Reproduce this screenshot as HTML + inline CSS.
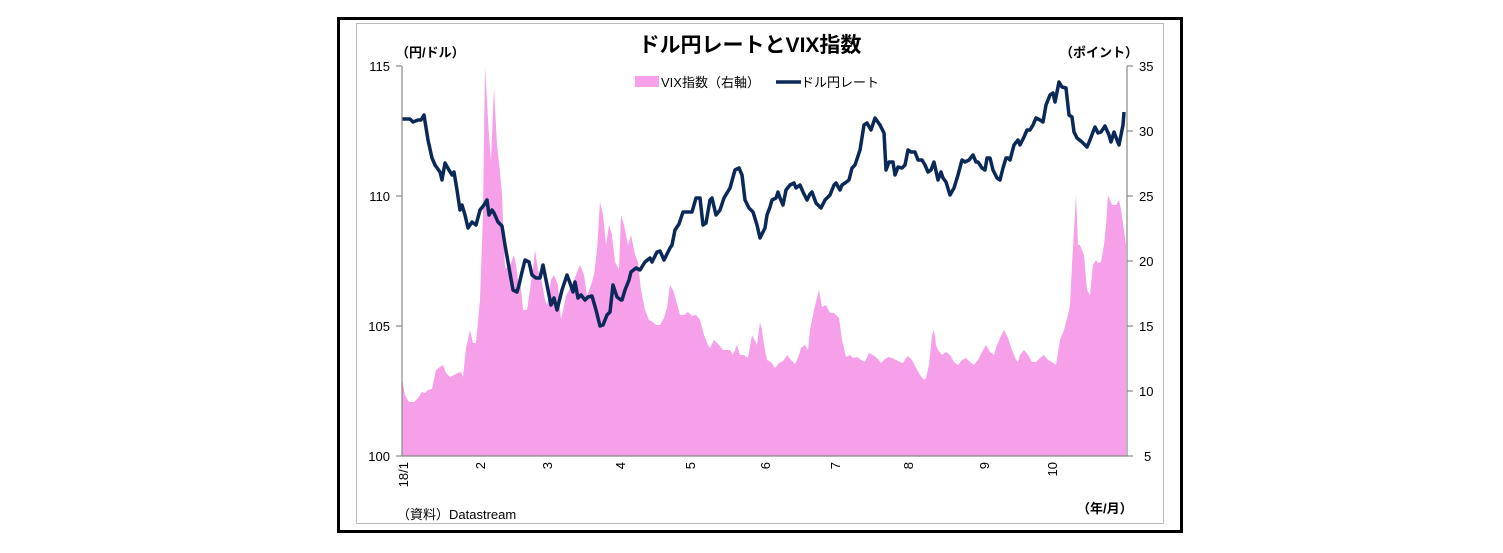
<!DOCTYPE html>
<html><head><meta charset="utf-8"><style>
body{margin:0;background:#fff;}
svg{display:block;font-family:"Liberation Sans","Noto Sans CJK JP",sans-serif;}
</style></head><body>
<svg width="1503" height="553" viewBox="0 0 1503 553">
<rect x="338.5" y="18.5" width="843" height="513" fill="#fff" stroke="#000" stroke-width="3"/>
<rect x="356.5" y="23.5" width="807" height="500" fill="none" stroke="#bbb" stroke-width="1"/>
<polygon fill="#f5a0e8" points="402,456 402,378 405,395 409,402 414,402 418,398 422,392 425,393 428,390 432,389 436,370 440,367 443,365 446,373 450,377 454,375 458,373 461,372 463,377 466,348 470,330 473,343 476,343 480,300 483,215 485,66 488,120 490,150 491,160 494,88 497,145 500,172 502,195 504,245 505,268 509,268 512,260 514,255 516,265 518,280 521,288 523,310 527,310 530,290 533,268 535,250 538,270 540,275 542,283 545,300 547,305 551,280 554,275 558,285 561,320 566,296 569,290 574,280 578,270 580,265 584,275 587,296 591,285 594,275 597,250 600,202 603,215 606,245 609,225 612,235 615,262 619,270 621,215 624,225 628,245 631,235 635,255 638,262 641,290 645,310 649,320 653,322 656,325 660,325 664,318 667,308 670,285 673,290 676,300 680,315 684,315 688,312 692,316 696,315 700,320 704,335 708,345 710,348 714,340 719,345 723,350 726,350 730,350 733,355 737,345 740,355 744,355 748,358 752,335 757,345 760,322 762,330 764,345 767,360 771,362 775,368 779,363 783,361 787,355 791,360 795,364 798,358 801,348 805,345 808,350 810,330 814,310 819,290 822,307 826,305 830,313 834,313 839,318 842,340 846,357 850,355 853,358 857,357 861,360 865,362 869,353 873,355 877,358 881,363 884,360 888,357 892,358 896,360 900,362 903,363 906,358 908,356 912,360 916,368 920,375 924,380 926,378 929,365 932,335 934,330 936,345 938,350 942,355 946,352 950,355 954,362 958,365 962,360 966,358 970,362 974,365 978,360 982,352 986,345 990,352 994,355 996,348 1000,338 1004,330 1008,338 1012,350 1016,360 1018,362 1020,355 1024,350 1028,355 1032,362 1036,362 1040,358 1044,355 1048,360 1052,362 1056,365 1060,340 1064,330 1068,315 1070,305 1072,265 1074,230 1076,195 1078,245 1080,245 1084,255 1087,290 1090,295 1093,265 1096,260 1098,263 1101,262 1104,245 1106,225 1108,195 1112,205 1116,205 1119,200 1121,210 1124,230 1126,245 1126,456"/>
<polyline fill="none" stroke="#0a2858" stroke-width="3.5" stroke-linejoin="round" points="402,119 410,119 413,122 418,120 421,120 424,115 428,140 432,158 435,165 440,172 442,180 445,163 449,170 452,175 454,172 457,190 460,210 462,205 465,215 468,228 472,222 476,225 480,210 484,205 487,200 489,215 492,210 494,213 498,222 502,226 505,245 508,262 513,290 517,292 519,285 522,272 525,260 529,262 532,275 536,278 540,278 543,265 547,285 551,305 554,298 557,310 562,290 567,275 570,283 573,292 575,282 578,298 581,295 585,300 588,297 592,296 596,310 600,326 603,325 607,315 610,312 613,285 617,297 621,300 622,300 625,290 629,280 631,272 636,268 640,270 645,262 650,258 652,262 657,252 660,251 664,260 670,248 672,245 675,230 679,224 683,212 688,212 692,212 696,198 700,198 703,225 706,223 710,200 712,198 716,215 720,210 724,198 730,188 735,170 739,168 742,175 745,200 749,208 753,212 757,225 760,238 765,228 767,215 770,207 772,200 776,198 778,192 780,198 783,205 786,190 790,185 794,183 796,188 800,185 803,192 807,200 810,194 812,192 816,203 821,208 825,200 830,195 834,185 836,183 840,190 842,185 845,183 849,180 852,168 855,165 860,150 864,125 867,123 871,130 875,118 880,125 884,133 886,170 889,162 893,162 895,175 898,167 902,168 905,165 908,150 911,152 915,152 918,160 922,160 925,165 928,172 931,170 934,162 938,180 941,172 943,178 946,182 950,195 954,188 958,175 962,160 965,162 969,160 973,155 976,162 978,162 982,168 985,170 987,158 990,158 993,170 997,178 1000,180 1003,168 1006,158 1008,158 1010,160 1014,145 1018,140 1020,145 1024,137 1027,130 1030,130 1033,125 1036,118 1040,120 1043,122 1046,105 1050,95 1053,93 1055,102 1059,82 1062,87 1066,88 1069,115 1072,117 1074,132 1077,138 1082,142 1087,147 1090,140 1093,132 1095,127 1098,133 1101,132 1105,126 1109,135 1111,142 1114,132 1117,140 1119,145 1123,125 1124,112"/>
<g stroke="#888" stroke-width="1.2" fill="none">
<line x1="402" y1="66" x2="402" y2="456"/>
<line x1="1127" y1="66" x2="1127" y2="456"/>
<line x1="402" y1="456" x2="1127" y2="456"/>
<line x1="396" y1="66" x2="402" y2="66"/><line x1="396" y1="196" x2="402" y2="196"/><line x1="396" y1="326" x2="402" y2="326"/><line x1="396" y1="456" x2="402" y2="456"/>
<line x1="1127" y1="66" x2="1133" y2="66"/><line x1="1127" y1="131" x2="1133" y2="131"/><line x1="1127" y1="196" x2="1133" y2="196"/><line x1="1127" y1="261" x2="1133" y2="261"/><line x1="1127" y1="326" x2="1133" y2="326"/><line x1="1127" y1="391" x2="1133" y2="391"/><line x1="1127" y1="456" x2="1133" y2="456"/>
</g>
<g font-size="13" fill="#000" text-anchor="end">
<text x="390" y="71">115</text><text x="390" y="201">110</text><text x="390" y="331">105</text><text x="390" y="461">100</text>
</g>
<g font-size="13" fill="#000" text-anchor="start">
<text x="1139" y="71">35</text><text x="1139" y="136">30</text><text x="1139" y="201">25</text><text x="1139" y="266">20</text><text x="1139" y="331">15</text><text x="1139" y="396">10</text><text x="1144" y="461">5</text>
</g>
<g font-size="13" fill="#000" text-anchor="end">
<text transform="translate(408,462) rotate(-90)">18/1</text>
<text transform="translate(485,462) rotate(-90)">2</text>
<text transform="translate(552,462) rotate(-90)">3</text>
<text transform="translate(625,462) rotate(-90)">4</text>
<text transform="translate(695,462) rotate(-90)">5</text>
<text transform="translate(770,462) rotate(-90)">6</text>
<text transform="translate(840,462) rotate(-90)">7</text>
<text transform="translate(913,462) rotate(-90)">8</text>
<text transform="translate(989,462) rotate(-90)">9</text>
<text transform="translate(1057,462) rotate(-90)">10</text>
</g>
<text x="750" y="52" font-size="21" font-weight="bold" text-anchor="middle">ドル円レートとVIX指数</text>
<text x="396" y="57" font-size="13" font-weight="bold">（円/ドル）</text>
<text x="1060" y="57" font-size="13" font-weight="bold">（ポイント）</text>
<rect x="635" y="76" width="24" height="11" fill="#f5a0e8"/>
<text x="661" y="87" font-size="13">VIX指数（右軸）</text>
<line x1="776" y1="82" x2="801" y2="82" stroke="#0a2858" stroke-width="3.5"/>
<text x="801" y="87" font-size="13">ドル円レート</text>
<text x="397" y="519" font-size="13">（資料）Datastream</text>
<text x="1077" y="513" font-size="13" font-weight="bold">（年/月）</text>
</svg>
</body></html>
